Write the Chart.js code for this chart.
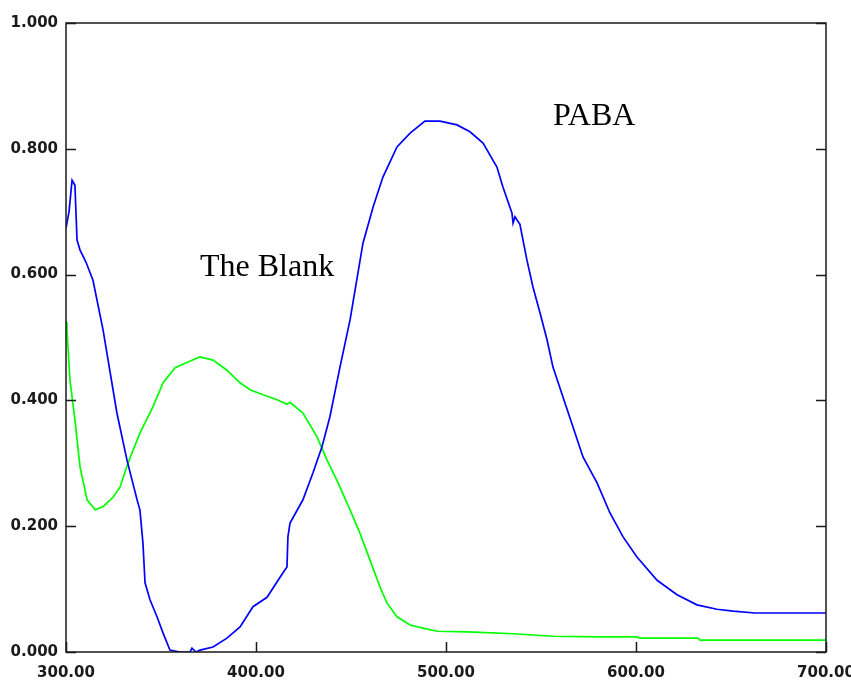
<!DOCTYPE html>
<html>
<head>
<meta charset="utf-8">
<script src="https://cdn.jsdelivr.net/npm/chart.js@4/dist/chart.umd.min.js"></script>
<style>
  html, body { margin: 0; padding: 0; background: #fff; }
  #wrap { width: 851px; height: 680px; position: relative; }
</style>
</head>
<body>
<div id="wrap"><canvas id="spec"></canvas></div>
<script>
// PABA trace (wavelength nm / absorbance)
const pabaNm = [300, 301.6, 303.2, 304.7, 305.8, 307.4, 310.5, 314.2, 319.5, 326.8, 332.1, 337.4, 338.9, 340.5, 341.6, 344.2, 347.9, 351.1, 354.7, 360, 365.3, 366.3, 368.4, 370.5, 377.4, 384.7, 391.6, 398.4, 405.8, 414.2, 416.3, 416.8, 417.9, 424.7, 430, 434.7, 438.9, 444.2, 449.5, 456.3, 461.6, 466.8, 474.2, 481.1, 488.9, 496.8, 505.8, 512.6, 519.5, 526.8, 530, 534.7, 535.3, 536.3, 538.9, 542.6, 545.8, 549.5, 553.2, 556.3, 561.6, 566.8, 572.1, 579.5, 586.3, 593.2, 600.5, 611.1, 621.6, 632.1, 642.6, 651.1, 662.6, 681, 700];
const pabaAbs = [0.674, 0.700, 0.750, 0.742, 0.655, 0.639, 0.620, 0.591, 0.512, 0.380, 0.305, 0.242, 0.226, 0.173, 0.110, 0.083, 0.056, 0.030, 0.003, 0.0, 0.0, 0.006, 0.0, 0.003, 0.008, 0.022, 0.040, 0.072, 0.087, 0.126, 0.135, 0.183, 0.205, 0.242, 0.285, 0.326, 0.374, 0.453, 0.528, 0.650, 0.707, 0.755, 0.803, 0.825, 0.844, 0.844, 0.838, 0.827, 0.809, 0.771, 0.739, 0.698, 0.682, 0.692, 0.680, 0.623, 0.580, 0.539, 0.496, 0.453, 0.405, 0.358, 0.310, 0.269, 0.221, 0.183, 0.151, 0.114, 0.091, 0.075, 0.068, 0.065, 0.062, 0.062, 0.062];

// Blank trace
const blankNm = [300, 300.5, 302.1, 304.7, 307.4, 311.1, 315.3, 319.5, 324.7, 328.4, 332.6, 338.9, 345.8, 351.1, 357.4, 364.2, 370.5, 377.4, 384.7, 391.6, 396.8, 403.7, 411.1, 416.3, 417.9, 424.7, 432.1, 437.4, 442.6, 449.5, 454.7, 460, 465.3, 468.9, 474.2, 481.1, 487.9, 495.3, 511.1, 535.3, 556.3, 581, 600.5, 602, 632.6, 633.7, 700];
const blankAbs = [0.525, 0.512, 0.432, 0.369, 0.294, 0.242, 0.226, 0.231, 0.246, 0.262, 0.300, 0.348, 0.390, 0.428, 0.452, 0.461, 0.469, 0.464, 0.448, 0.428, 0.417, 0.409, 0.401, 0.394, 0.397, 0.380, 0.342, 0.305, 0.273, 0.226, 0.189, 0.146, 0.103, 0.078, 0.056, 0.043, 0.038, 0.033, 0.032, 0.029, 0.025, 0.024, 0.024, 0.022, 0.022, 0.019, 0.019];

const xTicks = [300, 400, 500, 600, 700];
const yTicks = [0, 0.2, 0.4, 0.6, 0.8, 1.0];

// text labels placed in data units
const notes = [
  { text: "The Blank", nm: 370.5, abs: 0.598 },
  { text: "PABA", nm: 556.3, abs: 0.838 },
];

const toPts = (xs, ys) => xs.map((x, i) => ({ x, y: ys[i] }));
const axisColor = "#1a1a1a";

// frame + inward ticks like the instrument software draws
const framePlugin = {
  id: "frame",
  afterDraw(chart) {
    const { ctx, chartArea: a, scales } = chart;
    ctx.save();
    ctx.strokeStyle = axisColor;
    ctx.lineWidth = 1.5;
    ctx.strokeRect(a.left, a.top, a.right - a.left, a.bottom - a.top);
    ctx.beginPath();
    yTicks.forEach(v => {
      const y = Math.round(scales.y.getPixelForValue(v)) + 0.5;
      ctx.moveTo(a.left, y); ctx.lineTo(a.left + 10, y);
      ctx.moveTo(a.right, y); ctx.lineTo(a.right - 10, y);
    });
    xTicks.forEach(v => {
      const x = Math.round(scales.x.getPixelForValue(v)) + 0.5;
      ctx.moveTo(x, a.bottom); ctx.lineTo(x, a.bottom - 10);
    });
    ctx.stroke();

    ctx.fillStyle = "#000";
    ctx.font = "32px 'Liberation Serif', 'Times New Roman', serif";
    ctx.textAlign = "left";
    ctx.textBaseline = "alphabetic";
    notes.forEach(n => {
      ctx.fillText(n.text, scales.x.getPixelForValue(n.nm), scales.y.getPixelForValue(n.abs));
    });
    ctx.restore();
  }
};

const tickFont = { family: "'DejaVu Sans', Verdana, sans-serif", size: 15, weight: "bold" };

new Chart(document.getElementById("spec"), {
  type: "line",
  data: {
    datasets: [
      { label: "PABA", data: toPts(pabaNm, pabaAbs), borderColor: "#0000ff", borderWidth: 1.7, pointRadius: 0, tension: 0 },
      { label: "The Blank", data: toPts(blankNm, blankAbs), borderColor: "#00ff00", borderWidth: 1.7, pointRadius: 0, tension: 0 },
    ],
  },
  options: {
    responsive: true,
    maintainAspectRatio: false,
    animation: false,
    layout: { padding: { top: 23, right: 25, left: 0, bottom: 0 } },
    plugins: { legend: { display: false }, tooltip: { enabled: false } },
    scales: {
      x: {
        type: "linear", min: 300, max: 700,
        grid: { display: false, drawTicks: false },
        border: { display: false },
        afterBuildTicks: (s) => { s.ticks = xTicks.map(v => ({ value: v })); },
        afterFit: (s) => { s.height = 28; s.paddingLeft = 0; s.paddingRight = 0; },
        ticks: { color: axisColor, font: tickFont, padding: 12, maxRotation: 0, autoSkip: false,
                 callback: (v) => Number(v).toFixed(2) },
      },
      y: {
        min: 0, max: 1,
        grid: { display: false, drawTicks: false },
        border: { display: false },
        afterBuildTicks: (s) => { s.ticks = yTicks.map(v => ({ value: v })); },
        afterFit: (s) => { s.width = 66; s.paddingTop = 0; s.paddingBottom = 0; },
        ticks: { color: axisColor, font: tickFont, padding: 8,
                 callback: (v) => Number(v).toFixed(3) },
      },
    },
  },
  plugins: [framePlugin],
});
</script>
</body>
</html>
